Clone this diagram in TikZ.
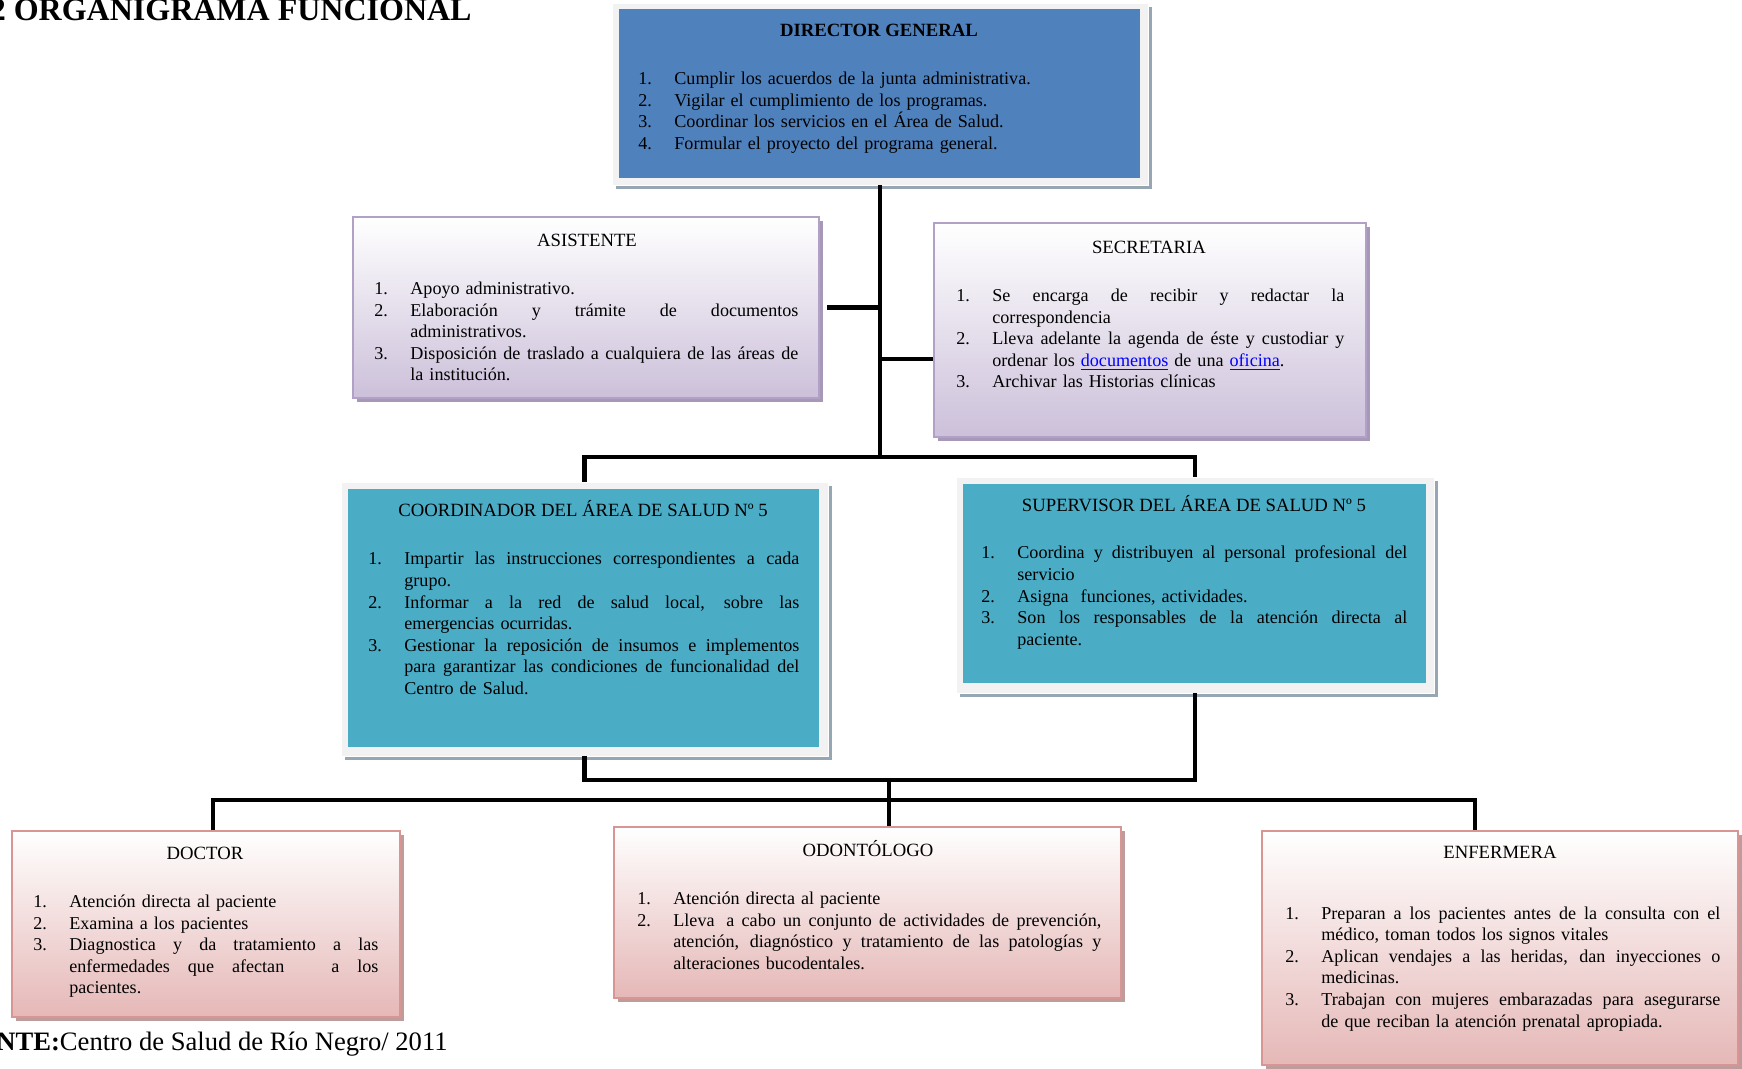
\documentclass[tikz,border=0pt]{standalone}
\usepackage{fontspec}
\setmainfont{Liberation Serif}
\usetikzlibrary{fit,shadows,calc}

\definecolor{dirblue}{HTML}{4F81BD}
\definecolor{tealbox}{HTML}{4BACC6}
\definecolor{framegray}{HTML}{F2F2F2}
\definecolor{shadegray}{HTML}{97A6B3}
\definecolor{lavline}{HTML}{B2A1C7}
\definecolor{lavfill}{HTML}{CCC0DA}
\definecolor{lavshade}{HTML}{A698B6}
\definecolor{roseline}{HTML}{D99594}
\definecolor{rosefill}{HTML}{E5B8B7}
\definecolor{roseshade}{HTML}{BF9C9C}
\definecolor{linkblue}{HTML}{0000FF}

% numbered duty lines: plain line, and line spread over a given width
\newlength\numw
\setlength\numw{18pt}
\newcommand\dutyline[2]{\noindent\hbox to\numw{#1\hss}#2\par}
\newcommand\dutyjust[3]{\noindent\hbox to\numw{#2\hss}%
  \hbox to #1{\spaceskip=0.25em plus 1fil minus 0.05em\xspaceskip=\spaceskip #3}\par}
\newcommand\weblink[1]{\textcolor{linkblue}{\underline{#1}}}
\newcommand\headsize{\fontsize{9.35}{10.8}\selectfont}
\newcommand\bodysize{\fontsize{9.05}{10.8}\selectfont}

\begin{document}
\begin{tikzpicture}[x=0.5pt,y=-0.5pt,
  frame/.style={fill=framegray, draw=white, line width=0.4pt, inner sep=0pt,
    drop shadow={shadow xshift=2pt, shadow yshift=-2pt, fill=shadegray, opacity=1}},
  core/.style={inner sep=0pt, draw=none},
  lavbox/.style={inner sep=0pt, draw=lavline, line width=0.9pt,
    top color=white, bottom color=lavfill,
    drop shadow={shadow xshift=2pt, shadow yshift=-2pt, fill=lavshade, opacity=1}},
  rosebox/.style={inner sep=0pt, draw=roseline, line width=0.9pt,
    top color=white, bottom color=rosefill,
    drop shadow={shadow xshift=2pt, shadow yshift=-2pt, fill=roseshade, opacity=1}},
  head/.style={anchor=base, inner sep=0pt, font=\headsize},
  duties/.style={anchor=base west, inner sep=0pt, font=\bodysize},
  conn/.style={line width=2.25pt, black}]

\useasboundingbox (0,0) rectangle (1742,1069);
\clip (0,0) rectangle (1742,1069);
\fill[white] (0,0) rectangle (1742,1069);

% page heading and source line
\node[anchor=base east, inner sep=0pt, font=\fontsize{16}{19}\selectfont\bfseries] (heading) at (472,21) {2 ORGANIGRAMA FUNCIONAL};
\node[anchor=base east, inner sep=0pt, font=\fontsize{13.3}{16}\selectfont] (source) at (448,1050) {\textbf{NTE:}Centro de Salud de Río Negro/ 2011};

% ---- boxes ----
\node[frame, fit={(612,3) (1148,185)}] (dirf) {};
\node[core, fill=dirblue, fit={(619,9) (1140,178)}] (dir) {};

\node[lavbox, fit={(353,217) (819,398)}] (asis) {};
\node[lavbox, fit={(934,223) (1366,437)}] (secr) {};

\node[frame, fit={(341,482) (828,756)}] (coorf) {};
\node[core, fill=tealbox, fit={(348,489) (819,747)}] (coor) {};
\node[frame, fit={(956,477) (1434,693)}] (supf) {};
\node[core, fill=tealbox, fit={(963,484) (1426,683)}] (sup) {};

\node[rosebox, fit={(12,831) (400,1017)}] (doc) {};
\node[rosebox, fit={(614,827) (1121,998)}] (odon) {};
\node[rosebox, fit={(1262,831) (1738,1065)}] (enf) {};

% ---- texts ----
\node[head, font=\headsize\bfseries] (dirT) at (879,36.5) {DIRECTOR GENERAL};
\node[duties, text width=250pt] (dirL) at (638,84.5) {%
  \dutyline{1.}{Cumplir los acuerdos de la junta administrativa.}
  \dutyline{2.}{Vigilar el cumplimiento de los programas.}
  \dutyline{3.}{Coordinar los servicios en el Área de Salud.}
  \dutyline{4.}{Formular el proyecto del programa general.}};

\node[head] (asisT) at (587,246.5) {ASISTENTE};
\node[duties, text width=212pt] (asisL) at (374,294.5) {%
  \dutyline{1.}{Apoyo administrativo.}
  \dutyjust{194pt}{2.}{Elaboración y trámite de documentos}
  \dutyline{}{administrativos.}
  \dutyjust{194pt}{3.}{Disposición de traslado a cualquiera de las áreas de}
  \dutyline{}{la institución.}};

\node[head] (secrT) at (1149,253.5) {SECRETARIA};
\node[duties, text width=194pt] (secrL) at (956,301.5) {%
  \dutyjust{176pt}{1.}{Se encarga de recibir y redactar la}
  \dutyline{}{correspondencia}
  \dutyjust{176pt}{2.}{Lleva adelante la agenda de éste y custodiar y}
  \dutyline{}{ordenar los \weblink{documentos} de una \weblink{oficina}.}
  \dutyline{3.}{Archivar las Historias clínicas}};

\node[head] (coorT) at (583,517) {COORDINADOR DEL ÁREA DE SALUD Nº 5};
\node[duties, text width=215.5pt] (coorL) at (368,565) {%
  \dutyjust{197.5pt}{1.}{Impartir las instrucciones correspondientes a cada}
  \dutyline{}{grupo.}
  \dutyjust{197.5pt}{2.}{Informar a la red de salud local, sobre las}
  \dutyline{}{emergencias ocurridas.}
  \dutyjust{197.5pt}{3.}{Gestionar la reposición de insumos e implementos}
  \dutyjust{197.5pt}{}{para garantizar las condiciones de funcionalidad del}
  \dutyline{}{Centro de Salud.}};

\node[head] (supT) at (1194,512) {SUPERVISOR DEL ÁREA DE SALUD Nº 5};
\node[duties, text width=213pt] (supL) at (981,559) {%
  \dutyjust{195pt}{1.}{Coordina y distribuyen al personal profesional del}
  \dutyline{}{servicio}
  \dutyline{2.}{Asigna\ \ funciones, actividades.}
  \dutyjust{195pt}{3.}{Son los responsables de la atención directa al}
  \dutyline{}{paciente.}};

\node[head] (docT) at (205,859) {DOCTOR};
\node[duties, text width=172.5pt] (docL) at (33,907.5) {%
  \dutyline{1.}{Atención directa al paciente}
  \dutyline{2.}{Examina a los pacientes}
  \dutyjust{154.5pt}{3.}{Diagnostica y da tratamiento a las}
  \dutyjust{154.5pt}{}{enfermedades que afectan\hspace{1.6em} a los}
  \dutyline{}{pacientes.}};

\node[head] (odonT) at (868,856) {ODONTÓLOGO};
\node[duties, text width=232pt] (odonL) at (637,904.5) {%
  \dutyline{1.}{Atención directa al paciente}
  \dutyjust{214pt}{2.}{Lleva\hspace{0.25em} a cabo un conjunto de actividades de prevención,}
  \dutyjust{214pt}{}{atención, diagnóstico y tratamiento de las patologías y}
  \dutyline{}{alteraciones bucodentales.}};

\node[head] (enfT) at (1500,858.5) {ENFERMERA};
\node[duties, text width=217.5pt] (enfL) at (1285,919) {%
  \dutyjust{199.5pt}{1.}{Preparan a los pacientes antes de la consulta con el}
  \dutyline{}{médico, toman todos los signos vitales}
  \dutyjust{199.5pt}{2.}{Aplican vendajes a las heridas, dan inyecciones o}
  \dutyline{}{medicinas.}
  \dutyjust{199.5pt}{3.}{Trabajan con mujeres embarazadas para asegurarse}
  \dutyline{}{de que reciban la atención prenatal apropiada.}};

% ---- connectors ----
\coordinate (jtop) at (880,457);
\coordinate (jsec) at (880,359);
\coordinate (jmid) at (889,780);
\coordinate (jdoc) at (213,800);
\coordinate (jenf) at (1475,800);

\draw[conn] (dirf.south) -- (jtop);
\draw[conn] ([xshift=3.5pt]asis.east) -- (asis.east -| dirf.south);
\draw[conn] (jsec) -- (jsec -| secr.west);
\draw[conn] (coorf.north) -- (coorf.north |- jtop) -- (supf.north |- jtop) -- (supf.north);
\draw[conn] (coorf.south) -- (coorf.south |- jmid) -- (supf.south |- jmid) -- (supf.south);
\draw[conn] (jmid) -- (jmid |- odon.north);
\draw[conn] (jdoc |- doc.north) -- (jdoc) -- (jenf) -- (jenf |- enf.north);

\end{tikzpicture}
\end{document}
